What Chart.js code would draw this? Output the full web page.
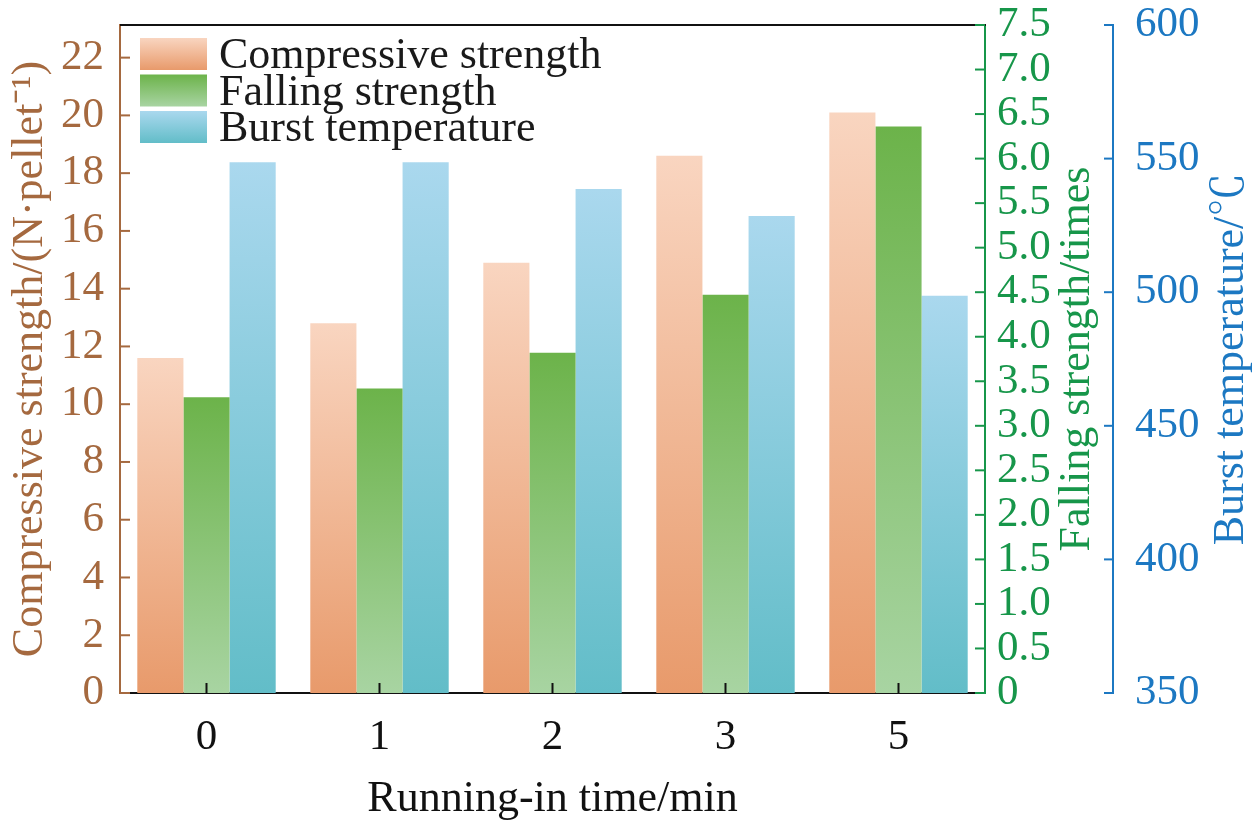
<!DOCTYPE html>
<html>
<head>
<meta charset="utf-8">
<script src="https://cdn.jsdelivr.net/npm/chart.js@4.4.1/dist/chart.umd.min.js"></script>
<style>
  body { margin: 0; background: #fff; }
  #wrap { width: 1260px; height: 827px; }
</style>
</head>
<body>
<div id="wrap"><canvas id="myChart"></canvas></div>
<script>
// data
const times = ['0', '1', '2', '3', '5']
const compressive = [11.6, 12.8, 14.9, 18.6, 20.1]
const falling = [3.32, 3.42, 3.82, 4.47, 6.36]
const burst = [548.6, 548.6, 538.6, 528.5, 498.7]

const brown = '#A5693F'
const green = '#17964A'
const blue = '#1C78C2'
const serif = "'Liberation Serif', 'Noto Serif CJK SC', 'Noto Sans CJK SC', serif"

Chart.defaults.font.family = serif

// gradient for each bar, from its top down to the axis
function barGrad(top, bottom) {
  return function (ctx) {
    const chart = ctx.chart
    const area = chart.chartArea
    if (!area || ctx.type !== 'data') return bottom
    const ds = chart.data.datasets[ctx.datasetIndex]
    const yTop = chart.scales[ds.yAxisID].getPixelForValue(ds.data[ctx.dataIndex])
    const g = chart.ctx.createLinearGradient(0, yTop, 0, area.bottom)
    g.addColorStop(0, top)
    g.addColorStop(1, bottom)
    return g
  }
}

const colors = [
  ['#F9D5C0', '#E89A6B'],
  ['#6CB34A', '#A8D4A2'],
  ['#AAD8EE', '#62BDC8']
]

// fixed widths, and no extra room for the half labels at the ends
function fitY(w) {
  return function (scale) {
    scale.width = w
    scale.paddingTop = 0
    scale.paddingBottom = 0
  }
}

// ticks pointing in, frame top line, right titles and the legend
const extras = {
  id: 'extras',
  afterDraw(chart) {
    const c = chart.ctx
    const a = chart.chartArea
    const s = chart.scales
    c.save()
    c.lineWidth = 2
    // top frame
    c.strokeStyle = '#111'
    c.beginPath(); c.moveTo(a.left, a.top); c.lineTo(a.right + 1, a.top); c.stroke()
    // x ticks
    s.x.ticks.forEach((t, i) => {
      const px = s.x.getPixelForTick(i)
      c.beginPath(); c.moveTo(px, a.bottom); c.lineTo(px, a.bottom - 10); c.stroke()
    })
    // left ticks
    c.strokeStyle = brown
    s.y.ticks.forEach(t => {
      const py = s.y.getPixelForValue(t.value)
      c.beginPath(); c.moveTo(a.left, py); c.lineTo(a.left + 10, py); c.stroke()
    })
    // falling ticks
    c.strokeStyle = green
    s.y1.ticks.forEach(t => {
      const py = s.y1.getPixelForValue(t.value)
      c.beginPath(); c.moveTo(a.right, py); c.lineTo(a.right - 10, py); c.stroke()
    })
    // burst ticks
    c.strokeStyle = blue
    s.y2.ticks.forEach(t => {
      const py = s.y2.getPixelForValue(t.value)
      c.beginPath(); c.moveTo(s.y2.left, py); c.lineTo(s.y2.left - 9, py); c.stroke()
    })
    // right axis titles, reading upward
    const cy = (a.top + a.bottom) / 2
    c.font = '44px ' + serif
    c.textAlign = 'center'
    c.textBaseline = 'alphabetic'
    c.fillStyle = green
    c.save(); c.translate(1089, cy); c.rotate(-Math.PI / 2); c.fillText('Falling strength/times', 0, 0); c.restore()
    c.fillStyle = blue
    c.save(); c.translate(1243, cy); c.rotate(-Math.PI / 2); c.fillText('Burst temperature/℃', 0, 0); c.restore()
    // legend
    c.textAlign = 'left'
    chart.data.datasets.forEach((ds, i) => {
      const y0 = 38 + i * 36.5
      const g = c.createLinearGradient(0, y0, 0, y0 + 32)
      g.addColorStop(0, colors[i][0])
      g.addColorStop(1, colors[i][1])
      c.fillStyle = g
      c.fillRect(140, y0, 67, 32)
      c.fillStyle = '#1a1a1a'
      c.fillText(ds.label, 219, y0 + 30)
    })
    c.restore()
  }
}

new Chart(document.getElementById('myChart'), {
  type: 'bar',
  data: {
    labels: times,
    datasets: [
      { label: 'Compressive strength', data: compressive, yAxisID: 'y', backgroundColor: barGrad(colors[0][0], colors[0][1]) },
      { label: 'Falling strength', data: falling, yAxisID: 'y1', backgroundColor: barGrad(colors[1][0], colors[1][1]) },
      { label: 'Burst temperature', data: burst, yAxisID: 'y2', backgroundColor: barGrad(colors[2][0], colors[2][1]) }
    ]
  },
  plugins: [extras],
  options: {
    responsive: true,
    maintainAspectRatio: false,
    animation: false,
    categoryPercentage: 0.8,
    barPercentage: 1,
    layout: { padding: { top: 25 } },
    plugins: { legend: { display: false }, tooltip: { enabled: false } },
    scales: {
      x: {
        grid: { display: false, drawTicks: false },
        border: { color: '#111', width: 2 },
        ticks: { color: '#111', font: { size: 43 }, padding: 19 },
        title: { display: true, text: 'Running-in time/min', color: '#111', font: { size: 44, lineHeight: 1 }, padding: { top: 0, bottom: 6 } },
        afterFit(scale) { scale.height = 134; scale.paddingLeft = 0; scale.paddingRight = 0 }
      },
      y: {
        position: 'left',
        min: 0,
        max: 23.13,
        grid: { display: false, drawTicks: false },
        border: { color: brown, width: 2 },
        ticks: { stepSize: 2, includeBounds: false, autoSkip: false, color: brown, font: { size: 43 }, padding: 16 },
        title: { display: true, text: 'Compressive strength/(N·pellet⁻¹)', color: brown, font: { size: 44, lineHeight: 1 }, padding: { top: 8, bottom: 0 } },
        afterFit: fitY(120)
      },
      y1: {
        position: 'right',
        min: 0,
        max: 7.5,
        grid: { display: false, drawTicks: false },
        border: { color: green, width: 2 },
        ticks: {
          stepSize: 0.5, autoSkip: false, color: green, font: { size: 43 }, padding: 12,
          callback: v => v === 0 ? '0' : v.toFixed(1)
        },
        afterFit: fitY(128)
      },
      y2: {
        position: 'right',
        min: 350,
        max: 600,
        grid: { display: false, drawTicks: false },
        border: { color: blue, width: 2 },
        ticks: { stepSize: 50, autoSkip: false, color: blue, font: { size: 43 }, padding: 22 },
        afterFit: fitY(147)
      }
    }
  }
})
</script>
</body>
</html>
